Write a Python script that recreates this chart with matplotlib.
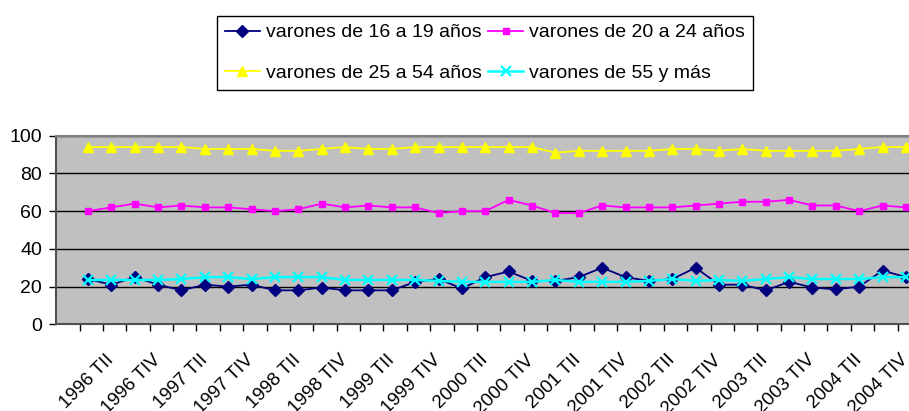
import numpy as np
import matplotlib.pyplot as plt

plt.rcParams['font.family'] = ['Liberation Sans', 'DejaVu Sans']

trimestres = [f"{a} {t}" for a in range(1996, 2005) for t in ["TI", "TII", "TIII", "TIV"]]

v16_19 = [24, 21, 25, 21, 18, 21, 20, 21, 18, 18, 19.5, 18, 18, 18, 22.5, 24, 19, 25,
          28, 23, 23, 25, 30, 25, 23, 24, 30, 21, 21, 18, 22.5, 19.5, 18.5, 20, 28.5, 25]
v20_24 = [60, 62, 64, 62, 63, 62, 62, 61, 60, 61, 64, 62, 63, 62, 62, 59, 60, 60,
          66, 63, 59, 59, 63, 62, 62, 62, 63, 64, 65, 65, 66, 63, 63, 60, 63, 62]
v25_54 = [94, 94, 94, 94, 94, 93, 93, 93, 92, 92, 93, 94, 93, 93, 94, 94, 94, 94,
          94, 94, 91, 92, 92, 92, 92, 93, 93, 92, 93, 92, 92, 92, 92, 93, 94, 94]
v55 = [23.5, 23.5, 23.5, 23.5, 24, 25, 25, 24, 25, 25, 25, 23.5, 23.5, 23.5, 23.5, 23, 22.5, 22.5,
       22.5, 22.5, 23.5, 22.5, 22.5, 22.5, 23, 24, 23, 23.5, 23, 24, 25, 24, 24, 24, 25, 25]

x = np.arange(len(trimestres))

fig = plt.figure(figsize=(9.09, 4.11), dpi=100)
ax = fig.add_axes([0.0616, 0.211, 0.9384, 0.4587])
ax.set_facecolor('#C0C0C0')

l1, = ax.plot(x, v16_19, color='#000080', marker='D', ms=5.8, lw=1.3, label='varones de 16 a 19 años')
l2, = ax.plot(x, v20_24, color='#FF00FF', marker='s', ms=5, lw=1.3, label='varones de 20 a 24 años')
l3, = ax.plot(x, v25_54, color='#FFFF00', marker='^', ms=7.5, lw=1.3, label='varones de 25 a 54 años')
l4, = ax.plot(x, v55, color='#00FFFF', marker='x', ms=7, mew=1.6, lw=1.8, label='varones de 55 y más')

ax.set_ylim(0, 100)
ax.set_xlim(-1.37, 35.13)
ax.set_yticks([0, 20, 40, 60, 80, 100])
ax.yaxis.grid(True, color='black', lw=1)
ax.set_axisbelow(True)
ax.tick_params(axis='y', labelsize=14, length=5, width=1, pad=5)

ax.set_xticks(x[1::2])
ax.set_xticklabels(trimestres[1::2], rotation=45, ha='right', va='center',
                   rotation_mode='anchor', fontsize=13.5)
ax.set_xticks(np.arange(len(trimestres)) - 0.36, minor=True)
ax.tick_params(axis='x', which='major', length=0, pad=24)
ax.tick_params(axis='x', which='minor', length=5, width=1)

for s in ['left', 'bottom']:
    ax.spines[s].set_color('#505050')
    ax.spines[s].set_linewidth(1.5)
ax.spines['top'].set_color('#808080')
ax.spines['top'].set_linewidth(1.5)
ax.spines['right'].set_visible(False)

# orden por filas como en el original
handles = [l1, l3, l2, l4]
leg = fig.legend(handles, [h.get_label() for h in handles], loc='center',
                 bbox_to_anchor=(0.5336, 0.871), ncol=2, fontsize=14,
                 frameon=True, fancybox=False, framealpha=1, edgecolor='black',
                 handlelength=1.8, handletextpad=0.3, columnspacing=0.35,
                 labelspacing=1.2, borderpad=0.4, borderaxespad=0)
leg.get_frame().set_linewidth(1)

fig.savefig('out.png', dpi=100)
